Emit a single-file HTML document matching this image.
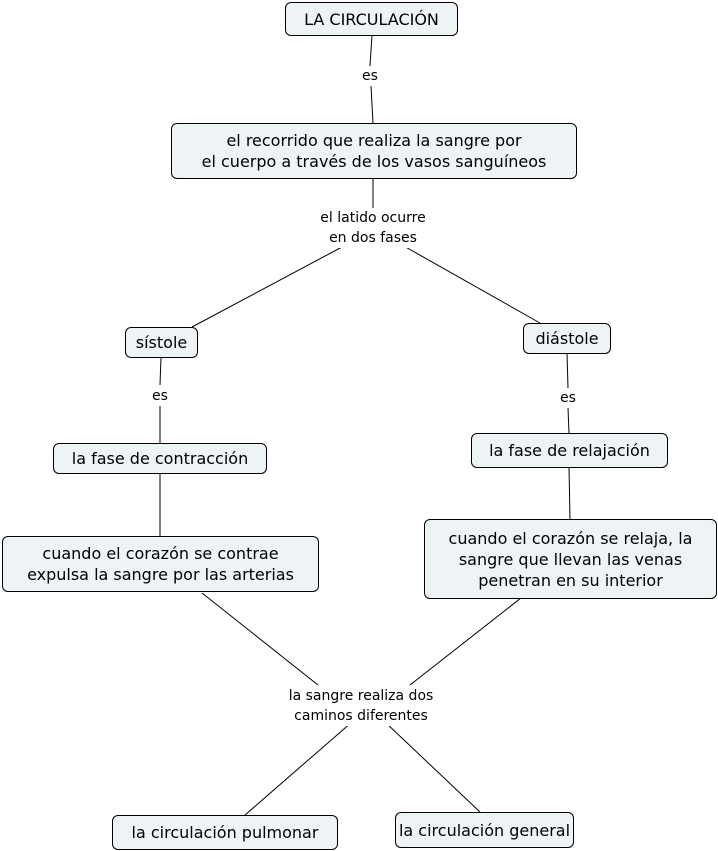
<!DOCTYPE html>
<html><head><meta charset="utf-8"><style>
body{margin:0;width:718px;height:851px;background:#fff;position:relative;overflow:hidden;font-family:"DejaVu Sans","Liberation Sans",sans-serif;}
.c{position:absolute;box-sizing:border-box;border:1px solid #000;border-radius:6px;background:#eef4f6;display:flex;align-items:center;justify-content:center;text-align:center;font-size:16px;line-height:21px;color:#000;}
.l{position:absolute;transform:translateX(-50%);text-align:center;font-size:14px;line-height:20px;background:#fff;white-space:nowrap;}
svg{position:absolute;left:0;top:0;}
</style></head><body>
<svg width="718" height="851"><g stroke="#000" stroke-width="1" fill="none">
<line x1="372" y1="35" x2="370" y2="66"/><line x1="371" y1="86" x2="373" y2="123"/>
<line x1="373" y1="178" x2="373" y2="208"/>
<line x1="342" y1="247" x2="192" y2="327"/><line x1="402" y1="245" x2="540" y2="323"/>
<line x1="161" y1="357" x2="160" y2="385"/><line x1="160" y1="406" x2="160" y2="443"/>
<line x1="567" y1="353" x2="568" y2="388"/><line x1="568" y1="408" x2="569" y2="433"/>
<line x1="160" y1="473" x2="160" y2="536"/><line x1="569" y1="467" x2="570" y2="519"/>
<line x1="202" y1="593" x2="318" y2="685"/><line x1="521" y1="598" x2="410" y2="685"/>
<line x1="352" y1="722" x2="245" y2="815"/><line x1="385" y1="722" x2="480" y2="812"/>
</g></svg>
<div class="c" style="left:285px;top:2px;width:173px;height:34px">LA CIRCULACIÓN</div>
<div class="l" style="left:370px;top:66px">es</div>
<div class="c" style="left:171px;top:123px;width:406px;height:56px">el recorrido que realiza la sangre por<br>el cuerpo a través de los vasos sanguíneos</div>
<div class="l" style="left:373px;top:208px">el latido ocurre<br>en dos fases</div>
<div class="c" style="left:125px;top:327px;width:73px;height:31px">sístole</div>
<div class="c" style="left:523px;top:323px;width:88px;height:31px">diástole</div>
<div class="l" style="left:160px;top:386px">es</div>
<div class="l" style="left:568px;top:388px">es</div>
<div class="c" style="left:53px;top:443px;width:214px;height:31px">la fase de contracción</div>
<div class="c" style="left:471px;top:433px;width:197px;height:35px">la fase de relajación</div>
<div class="c" style="left:2px;top:536px;width:317px;height:56px">cuando el corazón se contrae<br>expulsa la sangre por las arterias</div>
<div class="c" style="left:424px;top:519px;width:293px;height:80px">cuando el corazón se relaja, la<br>sangre que llevan las venas<br>penetran en su interior</div>
<div class="l" style="left:361px;top:686px">la sangre realiza dos<br>caminos diferentes</div>
<div class="c" style="left:112px;top:815px;width:226px;height:35px">la circulación pulmonar</div>
<div class="c" style="left:395px;top:812px;width:179px;height:36px">la circulación general</div>
</body></html>
